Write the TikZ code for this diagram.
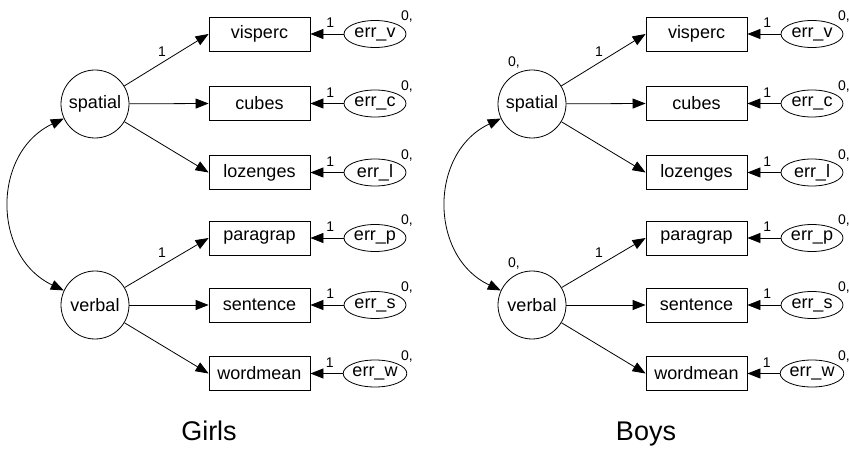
\documentclass[tikz,border=0pt]{standalone}
\usepackage{fontspec}
\setmainfont{Liberation Sans}
\usetikzlibrary{arrows.meta,shapes.geometric}
\begin{document}
\begin{tikzpicture}[x=1pt,y=-1pt,
  latent/.style={draw,circle,minimum size=68pt,inner sep=0pt,line width=0.8pt,font=\fontsize{18}{20}\selectfont},
  obs/.style={draw,rectangle,minimum width=101pt,minimum height=34pt,inner sep=0pt,line width=0.8pt,font=\fontsize{18}{20}\selectfont},
  err/.style={draw,ellipse,minimum width=62pt,minimum height=27pt,inner sep=0pt,line width=0.8pt,font=\fontsize{18}{20}\selectfont},
  lbl/.style={inner sep=0pt,font=\fontsize{14}{15}\selectfont},
  ttl/.style={inner sep=0pt,font=\fontsize{27}{29}\selectfont},
  arr/.style={-{Triangle[length=13pt,width=10pt]},line width=0.8pt},
  cov/.style={{Triangle[length=13pt,width=10pt]}-{Triangle[length=13pt,width=10pt]},line width=0.8pt}]
\fill[white] (0,0) rectangle (849,454);
\useasboundingbox (0,0) rectangle (849,454);
\foreach \p/\dx/\ti in {g/0/Girls,b/437/Boys}{
  \node[latent] (\p-spatial) at (\dx+95,104) {spatial};
  \node[latent] (\p-verbal) at (\dx+95,305) {verbal};
  \foreach \t/\e/\y/\f in {visperc/v/34/spatial,cubes/c/103.5/spatial,lozenges/l/172.5/spatial,paragrap/p/238/verbal,sentence/s/305/verbal,wordmean/w/373.5/verbal}{
    \node[obs] (\p-\t) at (\dx+259.5,\y) {\t};
    \node[err] (\p-err\e) at (\dx+375,\y) {err\_\e};
    \draw[arr] (\p-err\e) -- node[lbl,pos=0.4,above=6pt]{1} (\p-\t);
    \draw[arr] (\p-\f) -- (\p-\t.west);
    \node[lbl,anchor=base west] at ([shift={(26,-13)}]\p-err\e.center) {0,};
  }
  \node[lbl] at (\dx+162,52) {1};
  \node[lbl] at (\dx+162,253) {1};
  \draw[cov] (\p-spatial.205) .. controls +(-72,34) and +(-72,-34) .. (\p-verbal.155);
  \node[ttl,anchor=base] at (\dx+209,440) {\ti};
}
\node[lbl,anchor=base west] at ([shift={(-24,-37)}]b-spatial.center) {0,};
\node[lbl,anchor=base west] at ([shift={(-24,-37)}]b-verbal.center) {0,};
\end{tikzpicture}
\end{document}
